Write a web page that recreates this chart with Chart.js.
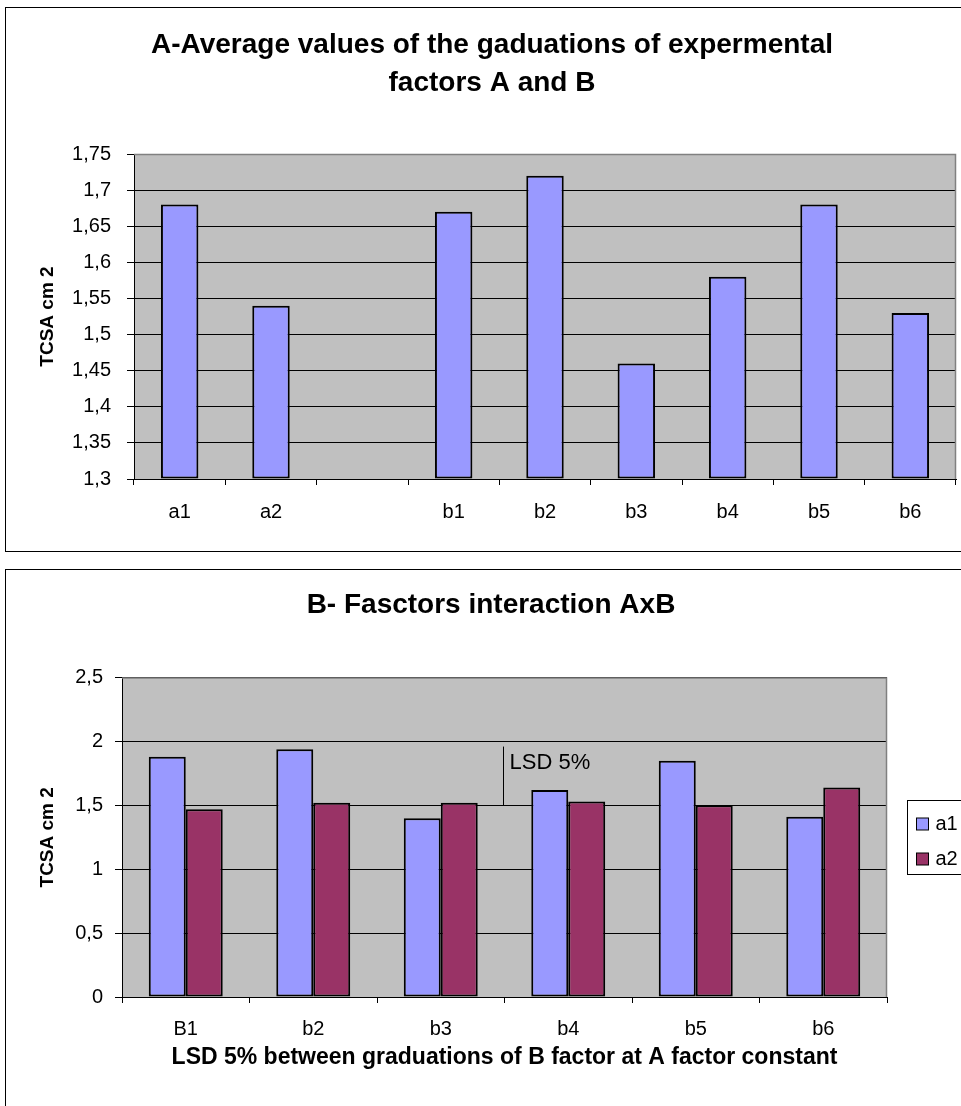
<!DOCTYPE html>
<html>
<head>
<meta charset="utf-8">
<title>TCSA cm 2</title>
<script src="https://cdn.jsdelivr.net/npm/chart.js@4.4.1/dist/chart.umd.min.js"></script>
<style>
    html, body { margin: 0; padding: 0; background: #fff; overflow: hidden; }
    body { width: 961px; height: 1106px; position: relative; }
    .frame { position: absolute; left: 5px; width: 1000px; border: 1px solid #000; box-sizing: border-box; background: #fff; }
    #frameA { top: 7px; height: 545px; }
    #frameB { top: 569px; height: 600px; }
    canvas { display: block; }
</style>
</head>
<body>
<div class="frame" id="frameA"><canvas id="chartA" width="972" height="543"></canvas></div>
<div class="frame" id="frameB"><canvas id="chartB" width="970" height="536"></canvas></div>
<script>
/* global Chart */
const FONT = "'Liberation Sans', Arial, sans-serif";

// A - average values per graduation (empty slot separates factor A from factor B)
const avgLabels = ['a1', 'a2', '', 'b1', 'b2', 'b3', 'b4', 'b5', 'b6'];
const avgValues = [1.68, 1.54, null, 1.67, 1.72, 1.46, 1.58, 1.68, 1.53];
const avgTicks = [1.3, 1.75, 0.05];   // min, max, step

// B - interaction AxB
const interLabels = ['B1', 'b2', 'b3', 'b4', 'b5', 'b6'];
const seriesNames = ['a1', 'a2'];
const interA1 = [1.88, 1.94, 1.40, 1.62, 1.85, 1.41];
const interA2 = [1.47, 1.52, 1.52, 1.53, 1.50, 1.64];
const interTicks = [0, 2.5, 0.5];

// LSD 5% marker: from / to (data units), drawn after category index
const lsdRange = [1.5, 1.96];
const lsdAfter = 2;

(function () {
    function commaNum(v) {
        return String(Math.round(v * 100) / 100).replace('.', ',');
    }

    const plotFrame = {
        id: 'plotFrame',
        beforeDraw(chart) {
            const { ctx, chartArea: a } = chart;
            ctx.save();
            ctx.fillStyle = '#C0C0C0';
            ctx.fillRect(a.left, a.top, a.right - a.left, a.bottom - a.top);
            ctx.restore();
        },
        beforeDatasetsDraw(chart) {
            const { ctx, chartArea: a } = chart;
            ctx.save();
            ctx.strokeStyle = '#808080';
            ctx.lineWidth = 1.5;
            ctx.beginPath();
            ctx.moveTo(a.left, a.top + 0.5);
            ctx.lineTo(a.right - 0.5, a.top + 0.5);
            ctx.lineTo(a.right - 0.5, a.bottom);
            ctx.stroke();
            ctx.restore();
        },
    };

    const lsdMark = {
        id: 'lsdMark',
        afterDatasetsDraw(chart) {
            const { ctx, scales } = chart;
            const x = scales.x, y = scales.y;
            const px = Math.round((x.getPixelForValue(lsdAfter) + x.getPixelForValue(lsdAfter + 1)) / 2) - 1.5;
            const y0 = y.getPixelForValue(lsdRange[0]);
            const y1 = y.getPixelForValue(lsdRange[1]);
            ctx.save();
            ctx.strokeStyle = '#000';
            ctx.lineWidth = 1;
            ctx.beginPath();
            ctx.moveTo(px, y0);
            ctx.lineTo(px, y1);
            ctx.stroke();
            ctx.font = '22px ' + FONT;
            ctx.fillStyle = '#000';
            ctx.textBaseline = 'middle';
            ctx.fillText('LSD 5%', px + 6, y1 + 16);
            ctx.restore();
        },
    };

    const boxedLegend = {
        id: 'boxedLegend',
        afterDraw(chart) {
            const { ctx, chartArea: a } = chart;
            const sets = chart.data.datasets;
            const rowH = 35;
            const h = 74;
            const left = Math.round(a.right + 20) + 0.5;
            const top = Math.round((a.top + a.bottom) / 2 - h / 2) + 0.5;
            ctx.save();
            ctx.strokeStyle = '#000';
            ctx.lineWidth = 1;
            ctx.strokeRect(left, top, 200, h);
            ctx.font = '20px ' + FONT;
            ctx.textBaseline = 'middle';
            sets.forEach((ds, i) => {
                const cy = top + 23 + i * rowH;
                ctx.fillStyle = ds.backgroundColor;
                ctx.fillRect(left + 9, Math.round(cy - 6), 12, 12);
                ctx.strokeRect(left + 9, Math.round(cy - 6), 12, 12);
                ctx.fillStyle = '#000';
                ctx.fillText(ds.label, left + 28, cy + 1);
            });
            ctx.restore();
        },
    };

    function yScale(t, width, tickPad) {
        return {
            min: t[0],
            max: t[1],
            afterFit(s) { s.width = width; },
            ticks: { stepSize: t[2], padding: tickPad, color: '#000', font: { family: FONT, size: 20 }, callback: commaNum },
            grid: { color: '#000', lineWidth: 1, tickLength: 7, tickColor: '#000' },
            border: { display: true, color: '#000', width: 1 },
            title: { display: true, text: 'TCSA cm 2', color: '#000', font: { family: FONT, size: 19, weight: 'bold' }, padding: { top: 30, bottom: 0 } },
        };
    }

    // empty right-hand box: keeps the plot clear of the right edge while the title stays centred on the canvas
    function rightGap(width) {
        return {
            type: 'linear',
            position: 'right',
            display: true,
            afterFit(s) { s.width = width; },
            ticks: { display: false },
            grid: { display: false, drawTicks: false },
            border: { display: false },
        };
    }

    function xScale(height, tickPad) {
        return {
            afterFit(s) { s.height = height; },
            ticks: { padding: tickPad, color: '#000', font: { family: FONT, size: 20 }, maxRotation: 0, autoSkip: false },
            grid: { display: true, drawOnChartArea: false, offset: true, tickLength: 6, color: '#000', tickColor: '#000' },
            border: { display: true, color: '#000', width: 1 },
        };
    }

    const common = {
        responsive: false,
        maintainAspectRatio: false,
        animation: false,
        devicePixelRatio: 1,
        events: [],
        layout: { padding: 0 },
    };

    // chart A
    new Chart(document.getElementById('chartA'), {
        type: 'bar',
        data: {
            labels: avgLabels,
            datasets: [{
                label: 'TCSA',
                data: avgValues,
                base: avgTicks[0],
                backgroundColor: '#9999FF',
                borderColor: '#000',
                borderWidth: 2,
                borderSkipped: false,
                barPercentage: 0.41,
                categoryPercentage: 1,
            }],
        },
        options: Object.assign({}, common, {
            plugins: {
                legend: { display: false },
                tooltip: { enabled: false },
                title: {
                    display: true,
                    text: ['A-Average values of the gaduations of expermental', 'factors A and B'],
                    color: '#000',
                    font: { family: FONT, size: 28, weight: 'bold', lineHeight: 38 / 28 },
                    padding: { top: 18, bottom: 52 },
                },
            },
            scales: { x: xScale(72, 15), y: yScale(avgTicks, 128, 16), yGap: rightGap(22) },
        }),
        plugins: [plotFrame],
    });

    // chart B
    const xB = xScale(109, 14);
    xB.title = {
        display: true,
        text: 'LSD 5% between graduations of B factor at A factor constant',
        color: '#000',
        font: { family: FONT, size: 23, weight: 'bold' },
        padding: { top: 0, bottom: 35 },
    };
    new Chart(document.getElementById('chartB'), {
        type: 'bar',
        data: {
            labels: interLabels,
            datasets: [
                { label: seriesNames[0], data: interA1, backgroundColor: '#9999FF', borderColor: '#000', borderWidth: 2, borderSkipped: false },
                { label: seriesNames[1], data: interA2, backgroundColor: '#993366', borderColor: '#000', borderWidth: 2, borderSkipped: false },
            ],
        },
        options: Object.assign({}, common, {
            datasets: { bar: { barPercentage: 1, categoryPercentage: 0.58 } },
            plugins: {
                legend: { display: false },
                tooltip: { enabled: false },
                title: {
                    display: true,
                    text: 'B- Fasctors interaction AxB',
                    color: '#000',
                    font: { family: FONT, size: 28, weight: 'bold', lineHeight: 1.2 },
                    padding: { top: 18, bottom: 56 },
                },
            },
            scales: { x: xB, y: yScale(interTicks, 116, 12), yGap: rightGap(89) },
        }),
        plugins: [plotFrame, lsdMark, boxedLegend],
    });
})();
</script>
</body>
</html>
